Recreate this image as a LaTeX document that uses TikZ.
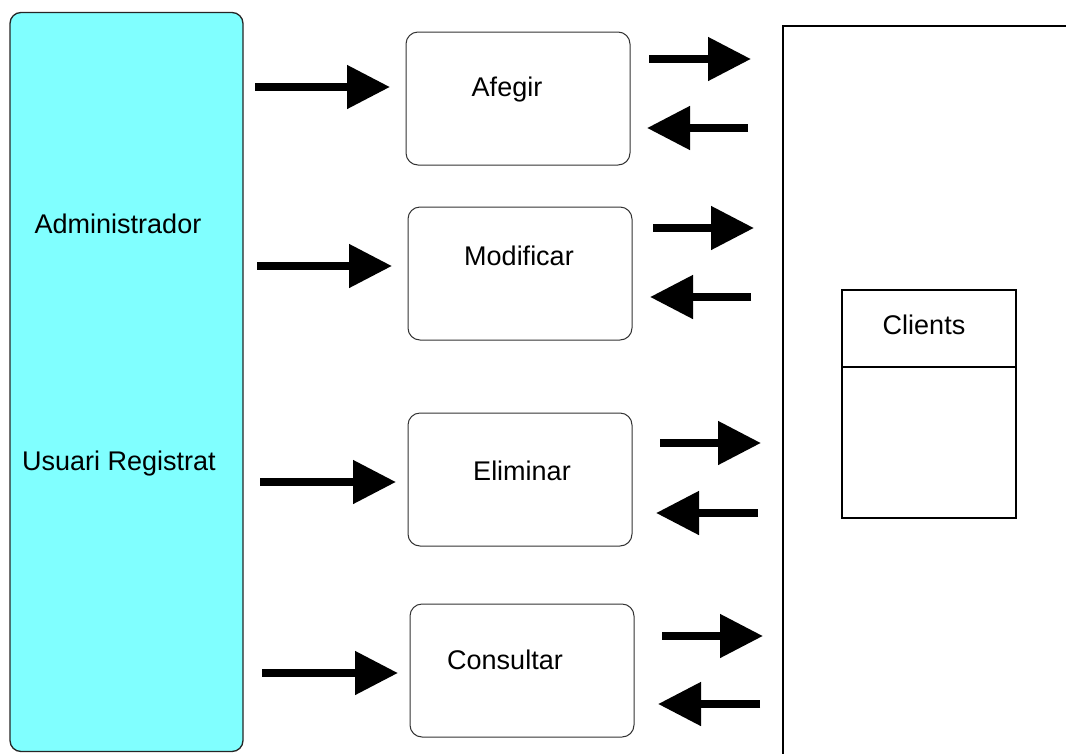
\documentclass[tikz,border=0pt]{standalone}
\usepackage{fontspec}
\setmainfont{Liberation Sans}
\usetikzlibrary{arrows.meta}
\definecolor{cyanfill}{HTML}{80FFFF}
\begin{document}
\begin{tikzpicture}[x=1pt,y=-1pt,
  proc/.style={draw=black!80,line width=1pt,rounded corners=12pt,minimum width=224pt,minimum height=133pt,inner sep=0pt},
  lbl/.style={font=\fontsize{27}{32}\selectfont,inner sep=0pt,anchor=center},
  fat/.style={line width=8pt,-{Triangle[length=43pt,width=42pt]}}]
\useasboundingbox (0,0) rectangle (1066,753);
\fill[white] (0,0) rectangle (1066,753);
% actor box
\node[draw=black!85,fill=cyanfill,line width=1.3pt,rounded corners=11pt,minimum width=233pt,minimum height=739pt,inner sep=0pt] (actor) at (126.5,382) {};
\node[lbl] (adm) at (118,224) {Administrador};
\node[lbl] (usr) at (119,464) {Usuari Registrat};
% process boxes
\node[proc] (afegir) at (518,98.5) {};
\node[proc] (modif) at (520,273.5) {};
\node[proc] (elim) at (520,479.5) {};
\node[proc] (cons) at (522,670.5) {};
\node[lbl] (tafegir) at (507,90) {Afegir};
\node[lbl] (tmodif) at (519,256) {Modificar};
\node[lbl] (telim) at (522,471) {Eliminar};
\node[lbl] (tcons) at (505,660) {Consultar};
% database area
\draw[line width=1.8pt] (783,760) -- (783,26) -- (1070,26);
\node[draw,line width=1.8pt,minimum width=174pt,minimum height=228pt,inner sep=0pt] (clients) at (929,404) {};
\draw[line width=1.8pt] (clients.west |- 0,367) -- (clients.east |- 0,367);
\node[lbl] (tclients) at (924,325) {Clients};
% input arrows
\coordinate (i1s) at (255,87);  \coordinate (i1e) at (390,87);
\coordinate (i2s) at (257,266); \coordinate (i2e) at (392,266);
\coordinate (i3s) at (260,482); \coordinate (i3e) at (396,482);
\coordinate (i4s) at (262,673); \coordinate (i4e) at (398,673);
\draw[fat] (i1s) -- (i1e);
\draw[fat] (i2s) -- (i2e);
\draw[fat] (i3s) -- (i3e);
\draw[fat] (i4s) -- (i4e);
% output / return arrows
\coordinate (o1s) at (649,59);  \coordinate (o1e) at (751,59);
\coordinate (r1s) at (748,128); \coordinate (r1e) at (647,128);
\coordinate (o2s) at (653,228); \coordinate (o2e) at (754,228);
\coordinate (r2s) at (751,297); \coordinate (r2e) at (650,297);
\coordinate (o3s) at (660,443); \coordinate (o3e) at (761,443);
\coordinate (r3s) at (758,513); \coordinate (r3e) at (656,513);
\coordinate (o4s) at (662,636); \coordinate (o4e) at (763,636);
\coordinate (r4s) at (760,704); \coordinate (r4e) at (658,704);
\foreach \k in {1,2,3,4}{
  \draw[fat] (o\k s) -- (o\k e);
  \draw[fat] (r\k s) -- (r\k e);
}
\end{tikzpicture}
\end{document}
